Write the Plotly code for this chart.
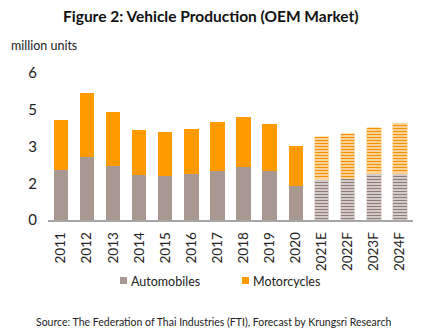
import plotly.graph_objects as go

years = ["2011", "2012", "2013", "2014", "2015", "2016", "2017", "2018", "2019", "2020",
         "2021E", "2022F", "2023F", "2024F"]
automobiles = [2.03, 2.57, 2.20, 1.83, 1.79, 1.89, 1.99, 2.16, 1.99, 1.38, 1.66, 1.71, 1.89, 1.89]
motorcycles = [2.04, 2.60, 2.20, 1.83, 1.81, 1.84, 2.00, 2.05, 1.93, 1.63, 1.73, 1.82, 1.87, 2.05]
n_actual = 10  # 2011-2020 actual, rest forecast
ytick_vals = [0, 1.5, 3, 4.5, 6]
ytick_text = ["0", "2", "3", "5", "6"]
legend_names = ["Automobiles", "Motorcycles"]

AUTO = "#A99892"
MOTO = "#FF9A00"
FONT = "Lato"

fig = go.Figure()
fig.add_trace(go.Bar(x=years[:n_actual], y=automobiles[:n_actual], name=legend_names[0],
                     showlegend=False, marker=dict(color=AUTO, line=dict(width=0))))
fig.add_trace(go.Bar(x=years[:n_actual], y=motorcycles[:n_actual], name=legend_names[1],
                     showlegend=False, marker=dict(color=MOTO, line=dict(width=0))))
fig.add_trace(go.Bar(x=years[n_actual:], y=automobiles[n_actual:], name="Automobiles (F)",
                     showlegend=False,
                     marker=dict(color="white", line=dict(width=0.8, color="#E2D8D5"),
                                 pattern=dict(shape="-", fgcolor="#8F7C76", bgcolor="white",
                                              fgopacity=1, size=3, solidity=0.6))))
fig.add_trace(go.Bar(x=years[n_actual:], y=motorcycles[n_actual:], name="Motorcycles (F)",
                     showlegend=False,
                     marker=dict(color="white", line=dict(width=0.8, color="#FFDCA8"),
                                 pattern=dict(shape="-", fgcolor="#F59000", bgcolor="white",
                                              fgopacity=1, size=3, solidity=0.6))))

W, H = 435, 336
L, R, T, B = 48, 22, 73, 116
pw, ph = W - L - R, H - T - B


def px(x):
    return (x - L) / pw


def py(y):
    return (H - B - y) / ph


shapes = []
annotations = [
    dict(text="<b>Figure 2: Vehicle Production (OEM Market)</b>", xref="paper", yref="paper",
         x=px(211), y=py(16), xanchor="center", yanchor="middle",
         showarrow=False, font=dict(size=15.5, family=FONT, color="#111111")),
    dict(text="million units", xref="paper", yref="paper",
         x=px(9), y=py(45), xanchor="left", yanchor="middle",
         showarrow=False, font=dict(size=12.5, family=FONT, color="#222222")),
    dict(text="Source: The Federation of Thai Industries (FTI), Forecast by Krungsri Research",
         xref="paper", yref="paper",
         x=px(213), y=py(322), xanchor="center", yanchor="middle",
         showarrow=False, font=dict(size=10.5, family=FONT, color="#222222")),
]
# manual legend
for name, color, sx in zip(legend_names, [AUTO, MOTO], [120, 242]):
    shapes.append(dict(type="rect", xref="paper", yref="paper",
                       x0=px(sx), x1=px(sx + 7), y0=py(284), y1=py(277),
                       fillcolor=color, line=dict(width=0)))
    annotations.append(dict(text=name, xref="paper", yref="paper",
                            x=px(sx + 9), y=py(281), xanchor="left", yanchor="middle",
                            showarrow=False, font=dict(size=12.5, family=FONT, color="#222222")))

fig.update_layout(
    width=W, height=H,
    margin=dict(l=L, r=R, t=T, b=B),
    paper_bgcolor="white", plot_bgcolor="white",
    barmode="stack", bargap=0.45,
    font=dict(family=FONT, color="#222222", size=13),
    showlegend=False,
    xaxis=dict(type="category", categoryorder="array", categoryarray=years,
               showline=True, linecolor="#A6A6A6", linewidth=1.5,
               showgrid=False, ticks="", tickangle=-90,
               tickfont=dict(size=13.5, family=FONT, color="#222222"),
               ticklabelstandoff=5, fixedrange=True),
    yaxis=dict(range=[0, 6], tickvals=ytick_vals, ticktext=ytick_text,
               showgrid=False, showline=False, zeroline=False, ticks="",
               tickfont=dict(size=15, family=FONT, color="#222222"),
               ticklabelstandoff=10, fixedrange=True),
    shapes=shapes,
    annotations=annotations,
)

fig.write_html("out.html")
